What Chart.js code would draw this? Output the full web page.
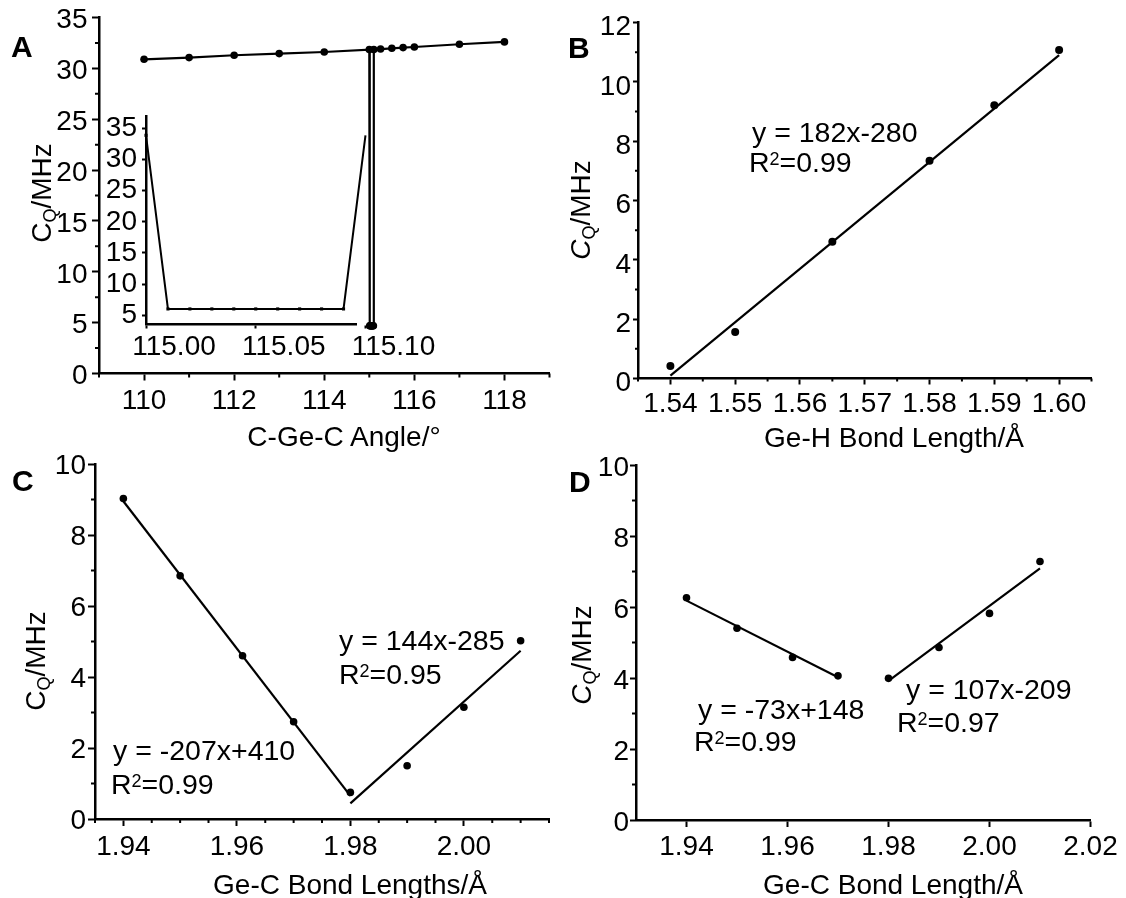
<!DOCTYPE html>
<html>
<head>
<meta charset="utf-8">
<title>Ge quadrupolar coupling constants</title>
<script src="https://cdn.jsdelivr.net/npm/chart.js@4.4.1/dist/chart.umd.min.js"></script>
<style>
  html, body { margin: 0; padding: 0; background: #fff; }
  #wrap { position: relative; width: 1126px; height: 898px; overflow: hidden;
          font-family: "Liberation Sans", Arial, sans-serif; color: #000; }
  #wrap canvas { position: absolute; left: 0; top: 0; }
  .t { position: absolute; font-size: 28.5px; line-height: 28px; white-space: nowrap; transform: translateY(-50%); }
  .t sup { font-size: 18px; line-height: 0; vertical-align: 7px; }
  .letter { position: absolute; font-size: 30px; line-height: 30px; font-weight: bold; transform: translateY(-50%); }
  .xtitle { position: absolute; font-size: 28px; line-height: 28px; white-space: nowrap; transform: translate(-50%, -50%); }
  .ytitle { position: absolute; font-size: 28px; line-height: 28px; white-space: nowrap;
            transform: translate(-50%, -50%) rotate(-90deg); }
  .ytitle sub { font-size: 18px; line-height: 0; vertical-align: -5px; }
  .up { font-style: normal; }
</style>
</head>
<body>
<div id="wrap">
  <canvas id="cA" width="1126" height="898"></canvas>
  <canvas id="cInset" width="1126" height="898"></canvas>
  <canvas id="cB" width="1126" height="898"></canvas>
  <canvas id="cC" width="1126" height="898"></canvas>
  <canvas id="cD" width="1126" height="898"></canvas>

  <div class="letter" style="left:11px;top:47px">A</div>
  <div class="letter" style="left:568px;top:48px">B</div>
  <div class="letter" style="left:12px;top:481px">C</div>
  <div class="letter" style="left:569px;top:482px">D</div>

  <div class="ytitle" style="left:42px;top:193px"><span class="up">C</span><sub>Q</sub>/MHz</div>
  <div class="ytitle" style="left:581px;top:210px"><i>C</i><sub>Q</sub>/MHz</div>
  <div class="ytitle" style="left:36px;top:661px"><span class="up">C</span><sub>Q</sub>/MHz</div>
  <div class="ytitle" style="left:582px;top:655px"><i>C</i><sub>Q</sub>/MHz</div>

  <div class="xtitle" style="left:344px;top:437px">C-Ge-C Angle/°</div>
  <div class="xtitle" style="left:894px;top:438px">Ge-H Bond Length/Å</div>
  <div class="xtitle" style="left:350px;top:885px">Ge-C Bond Lengths/Å</div>
  <div class="xtitle" style="left:893px;top:885px">Ge-C Bond Length/Å</div>

  <div class="t" style="left:752px;top:131.5px">y = 182x-280</div>
  <div class="t" style="left:749px;top:161.5px">R<sup>2</sup>=0.99</div>

  <div class="t" style="left:339px;top:640px">y = 144x-285</div>
  <div class="t" style="left:339px;top:674px">R<sup>2</sup>=0.95</div>
  <div class="t" style="left:113px;top:750px">y = -207x+410</div>
  <div class="t" style="left:111px;top:784px">R<sup>2</sup>=0.99</div>

  <div class="t" style="left:698px;top:709px">y = -73x+148</div>
  <div class="t" style="left:694px;top:741px">R<sup>2</sup>=0.99</div>
  <div class="t" style="left:906px;top:689px">y = 107x-209</div>
  <div class="t" style="left:897px;top:722px">R<sup>2</sup>=0.97</div>
</div>

<script>
// --- A: C-Ge-C angle scan (the 115.00-115.10 window is repeated in the inset)
const angle = [110, 111, 112, 113, 114, 115, 115.01, 115.02, 115.03, 115.04, 115.05, 115.06, 115.07, 115.08, 115.09, 115.1, 115.25, 115.5, 115.75, 116, 117, 118];
const cqAngle = [30.89, 31.06, 31.29, 31.45, 31.61, 31.85, 4.7, 4.7, 4.7, 4.7, 4.7, 4.7, 4.7, 4.7, 4.7, 31.85, 31.9, 31.97, 32.04, 32.1, 32.37, 32.6];
const insetAngle = [115.00, 115.01, 115.02, 115.03, 115.04, 115.05, 115.06, 115.07, 115.08, 115.09, 115.10];
const insetCq = [33.9, 6.0, 6.0, 6.0, 6.0, 6.0, 6.0, 6.0, 6.0, 6.0, 33.9];

const aXTicks = [110, 112, 114, 116, 118];
const aXMinor = [109, 111, 113, 115, 117, 119];
const aYTicks = [0, 5, 10, 15, 20, 25, 30, 35];
const aYMinor = [2.5, 7.5, 12.5, 17.5, 22.5, 27.5, 32.5];
const insetXTicks = [115.00, 115.05, 115.10];
const insetYTicks = [5, 10, 15, 20, 25, 30, 35];

// --- B: Ge-H bond length
const geH = [1.54, 1.55, 1.565, 1.58, 1.59, 1.60];
const cqGeH = [0.42, 1.57, 4.61, 7.34, 9.21, 11.07];
const fitGeHX = [1.54, 1.60];
const fitGeHY = [0.1, 10.9];
const bXTicks = [1.54, 1.55, 1.56, 1.57, 1.58, 1.59, 1.60];
const bXMinor = [1.535, 1.545, 1.555, 1.565, 1.575, 1.585, 1.595, 1.605];
const bYTicks = [0, 2, 4, 6, 8, 10, 12];
const bYMinor = [1, 3, 5, 7, 9, 11];

// --- C: Ge-C bond lengths
const geC1 = [1.94, 1.95, 1.961, 1.97, 1.98, 1.99, 2.00, 2.01];
const cqGeC1 = [9.03, 6.85, 4.6, 2.74, 0.75, 1.5, 3.15, 5.02];
const fitC1X = [1.94, 1.98];
const fitC1Y = [8.95, 0.65];
const fitC2X = [1.98, 2.01];
const fitC2Y = [0.44, 4.74];
const cXTicks = [1.94, 1.96, 1.98, 2.00];
const cXMinor = [1.935, 1.945, 1.95, 1.955, 1.965, 1.97, 1.975, 1.985, 1.99, 1.995, 2.005, 2.01, 2.015];
const cYTicks = [0, 2, 4, 6, 8, 10];
const cYMinor = [1, 3, 5, 7, 9];

// --- D: Ge-C bond length
const geC2 = [1.94, 1.95, 1.961, 1.97, 1.98, 1.99, 2.00, 2.01];
const cqGeC2 = [6.26, 5.4, 4.58, 4.06, 3.99, 4.86, 5.82, 7.28];
const fitD1X = [1.94, 1.97];
const fitD1Y = [6.18, 4.02];
const fitD2X = [1.98, 2.01];
const fitD2Y = [3.92, 7.09];
const dXTicks = [1.94, 1.96, 1.98, 2.00, 2.02];
const dYTicks = [0, 2, 4, 6, 8, 10];
const dYMinor = [1, 3, 5, 7, 9];

const FONT = '"Liberation Sans", Arial, sans-serif';
const TICK_SIZE = 28;
const W = 1126, H = 898;
const YW = 60, XH = 40;   // fixed scale box sizes, so plot areas land where we want

Chart.defaults.font.family = FONT;
Chart.defaults.color = '#000';

// short tick marks between the labelled ones
const minorTicks = {
  id: 'minorTicks',
  afterDraw(chart, args, opts) {
    const { ctx, chartArea } = chart;
    ctx.save();
    ctx.strokeStyle = '#000';
    ctx.lineWidth = 2;
    ctx.beginPath();
    (opts.x || []).forEach(v => {
      const px = chart.scales.x.getPixelForValue(v);
      ctx.moveTo(px, chartArea.bottom);
      ctx.lineTo(px, chartArea.bottom + opts.len);
    });
    (opts.y || []).forEach(v => {
      const py = chart.scales.y.getPixelForValue(v);
      ctx.moveTo(chartArea.left, py);
      ctx.lineTo(chartArea.left - opts.len, py);
    });
    ctx.stroke();
    ctx.restore();
  }
};

function axis(isX, min, max, tickVals, fmt, len, pad, shift, drawTicks = true) {
  return {
    type: 'linear',
    position: isX ? 'bottom' : 'left',
    min, max,
    border: { display: true, color: '#000', width: 2.5 },
    grid: { display: true, drawOnChartArea: false, drawTicks, tickLength: len, tickColor: '#000', tickWidth: 2 },
    ticks: {
      color: '#000', font: { family: FONT, size: TICK_SIZE }, padding: pad, labelOffset: shift || 0,
      autoSkip: false, maxRotation: 0, minRotation: 0, callback: fmt
    },
    afterBuildTicks: s => { s.ticks = tickVals.map(v => ({ value: v })); },
    afterFit: s => {
      if (isX) { s.height = XH; s.paddingLeft = 0; s.paddingRight = 0; }
      else { s.width = YW; s.paddingTop = 0; s.paddingBottom = 0; }
    }
  };
}

const pts = (xs, ys) => xs.map((x, i) => ({ x, y: ys[i] }));

function dots(xs, ys, r, style) {
  return {
    data: pts(xs, ys), showLine: false, clip: false,
    pointRadius: r, pointStyle: style || 'circle',
    pointBackgroundColor: '#000', pointBorderColor: '#000', pointBorderWidth: 0
  };
}

function fit(xs, ys, w) {
  return {
    data: pts(xs, ys), showLine: true, clip: false, pointRadius: 0,
    borderColor: '#000', borderWidth: w, tension: 0
  };
}

// area = [left, top, right, bottom] of the plot frame
function makeChart(id, area, scales, datasets, minor) {
  return new Chart(document.getElementById(id), {
    type: 'scatter',
    data: { datasets },
    options: {
      responsive: false, animation: false, events: [],
      layout: { padding: { left: area[0] - YW, top: area[1], right: W - area[2], bottom: H - area[3] - XH } },
      scales,
      plugins: { legend: { display: false }, tooltip: { enabled: false }, minorTicks: minor }
    },
    plugins: [minorTicks]
  });
}

const f0 = v => String(v);
const f2 = v => v.toFixed(2);

// A
makeChart('cA', [99, 17.5, 549.5, 373.5], {
  x: axis(true, 109, 119, aXTicks, f0, 7, 3.5),
  y: axis(false, 0, 35, aYTicks, f0, 7, 4.5, 3)
}, [
  Object.assign(dots(angle, cqAngle, 3.8), { showLine: true, borderColor: '#000', borderWidth: 2.2 })
], { x: aXMinor, y: aYMinor, len: 4 });

// A inset
makeChart('cInset', [146, 116, 356.7, 324.5], {
  x: axis(true, 115.0, 115.096, insetXTicks, f2, 4, 1.7, 28),
  y: axis(false, 3.5, 37, insetYTicks, f0, 4, 5)
}, [
  Object.assign(dots(insetAngle, insetCq, 2.2, 'rect'), { showLine: true, borderColor: '#000', borderWidth: 2 })
], {});

// B
makeChart('cB', [638, 22.5, 1091.5, 378.5], {
  x: axis(true, 1.535, 1.605, bXTicks, f2, 6, 3),
  y: axis(false, 0, 12, bYTicks, f0, 5, 2, 5)
}, [
  dots(geH, cqGeH, 4),
  fit(fitGeHX, fitGeHY, 2.2)
], { x: bXMinor, y: bYMinor, len: 3 });

// C
makeChart('cC', [95, 464, 549, 819], {
  x: axis(true, 1.935, 2.015, cXTicks, f2, 7, 4),
  y: axis(false, 0, 10, cYTicks, f0, 7, 2, 2)
}, [
  dots(geC1, cqGeC1, 3.8),
  fit(fitC1X, fitC1Y, 2.2),
  fit(fitC2X, fitC2Y, 2.2)
], { x: cXMinor, y: cYMinor, len: 4 });

// D
makeChart('cD', [636, 465, 1090.5, 820], {
  x: axis(true, 1.93, 2.02, dXTicks, f2, 7, 3.6),
  y: axis(false, 0, 10, dYTicks, f0, 6, 1, 3)
}, [
  dots(geC2, cqGeC2, 3.8),
  fit(fitD1X, fitD1Y, 2.2),
  fit(fitD2X, fitD2Y, 2.2)
], { y: dYMinor, len: 4 });
</script>
</body>
</html>
